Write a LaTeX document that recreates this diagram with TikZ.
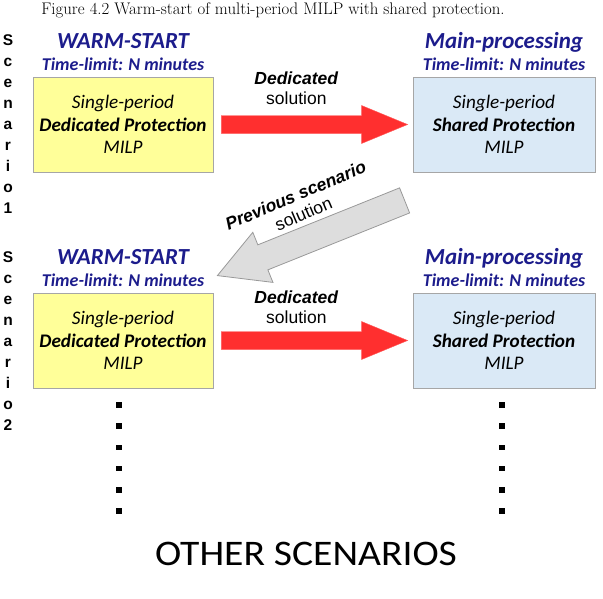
\documentclass[tikz,border=0pt]{standalone}
\usepackage{fontspec}
\newfontfamily\calibri{Carlito}
\newfontfamily\arialf{Liberation Sans}
\definecolor{msNavy}{HTML}{1C1C8C}
\definecolor{msYellow}{HTML}{FFFF99}
\definecolor{msBlue}{HTML}{DAE9F6}
\definecolor{msRed}{HTML}{FF2F2F}
\definecolor{msGrey}{HTML}{DDDDDD}
\usetikzlibrary{positioning, calc}

\begin{document}
\begin{tikzpicture}[x=1pt, y=-1pt,
  modelbox/.style={draw=black!35, line width=0.8pt, minimum width=180pt,
    minimum height=95pt, align=center, inner sep=0pt,
    font=\calibri\itshape\fontsize{19.2}{22.5}\selectfont},
  warmbox/.style={modelbox, fill=msYellow},
  mainbox/.style={modelbox, fill=msBlue, minimum width=182pt},
  stage/.style={text=msNavy, inner sep=0pt, text depth=0pt,
    font=\calibri\bfseries\itshape\fontsize{23}{26}\selectfont},
  limit/.style={text=msNavy, inner sep=0pt, text depth=0pt,
    font=\calibri\bfseries\itshape\fontsize{18}{20}\selectfont},
  passlbl/.style={align=center, inner sep=0pt,
    font=\arialf\fontsize{17.5}{20}\selectfont},
  scenlbl/.style={align=center, inner sep=0pt,
    font=\arialf\bfseries\fontsize{15.5}{21}\selectfont},
  redarrow/.style={fill=msRed, draw=msRed!80!white, line width=0.4pt},
  greyarrow/.style={fill=msGrey, draw=black!40, line width=0.8pt},
  more/.style={fill=black, minimum size=5.5pt, inner sep=0pt}]
  \useasboundingbox (0,0) rectangle (603,598);

  \node[inner sep=0pt, font=\fontsize{16.8}{19}\selectfont] (cap) at (273,10)
    {Figure 4.2 Warm-start of multi-period MILP with shared protection.};

  % scenario 1
  \node[scenlbl] (sc1) at (8,124) {S\\c\\e\\n\\a\\r\\i\\o\\1};
  \node[warmbox] (ws1) at (123,124.5) {Single-period\\\textbf{Dedicated Protection}\\MILP};
  \node[limit, above=6pt of ws1] (wsl1) {Time-limit: N minutes};
  \node[stage, above=9pt of wsl1] (wst1) {WARM-START};
  \node[mainbox] (mp1) at (504,124.5) {Single-period\\\textbf{Shared Protection}\\MILP};
  \node[limit, above=6pt of mp1] (mpl1) {Time-limit: N minutes};
  \node[stage, above=9pt of mpl1] (mpt1) {Main-processing};
  \filldraw[redarrow] ($(ws1.east)+(8,-9)$) -- ($(mp1.west)+(-51,-9)$)
    -- ($(mp1.west)+(-51,-19)$) -- ($(mp1.west)+(-5,0)$)
    -- ($(mp1.west)+(-51,19)$) -- ($(mp1.west)+(-51,9)$)
    -- ($(ws1.east)+(8,9)$) -- cycle;
  \node[passlbl] (ded1) at ($(ws1.east)+(83,-36)$) {\textbf{\textit{Dedicated}}\\solution};

  % scenario 2
  \node[scenlbl] (sc2) at (8,341) {S\\c\\e\\n\\a\\r\\i\\o\\2};
  \node[warmbox] (ws2) at (123,340.5) {Single-period\\\textbf{Dedicated Protection}\\MILP};
  \node[limit, above=6pt of ws2] (wsl2) {Time-limit: N minutes};
  \node[stage, above=9pt of wsl2] (wst2) {WARM-START};
  \node[mainbox] (mp2) at (504,340.5) {Single-period\\\textbf{Shared Protection}\\MILP};
  \node[limit, above=6pt of mp2] (mpl2) {Time-limit: N minutes};
  \node[stage, above=9pt of mpl2] (mpt2) {Main-processing};
  \filldraw[redarrow] ($(ws2.east)+(8,-9)$) -- ($(mp2.west)+(-51,-9)$)
    -- ($(mp2.west)+(-51,-19)$) -- ($(mp2.west)+(-5,0)$)
    -- ($(mp2.west)+(-51,19)$) -- ($(mp2.west)+(-51,9)$)
    -- ($(ws2.east)+(8,9)$) -- cycle;
  \node[passlbl] (ded2) at ($(ws2.east)+(83,-33)$) {\textbf{\textit{Dedicated}}\\solution};

  % previous scenario solution feeds the next warm start
  \coordinate (prevtail) at ($(mp1.south west)+(-8,28)$);
  \coordinate (prevtip) at ($(ws2.north east)+(4,-17)$);
  \coordinate (prevhead) at ($(prevtip)!49pt!(prevtail)$);
  \filldraw[greyarrow] ($(prevtail)!13.5pt!90:(prevtip)$)
    -- ($(prevhead)!13.5pt!90:(prevtip)$) -- ($(prevhead)!27pt!90:(prevtip)$)
    -- (prevtip)
    -- ($(prevhead)!27pt!-90:(prevtip)$) -- ($(prevhead)!13.5pt!-90:(prevtip)$)
    -- ($(prevtail)!13.5pt!-90:(prevtip)$) -- cycle;
  \node[passlbl, rotate=23] (prev) at (299.5,204.5)
    {\textbf{\textit{Previous scenario}}\\solution};

  % remaining scenarios
  \foreach \k in {0,...,5} {
    \node[more] (dl\k) at (119,{405+21.2*\k}) {};
    \node[more] (dr\k) at (502,{405+21.2*\k}) {};
  }
  \node[inner sep=0pt, font=\calibri\fontsize{36}{40}\selectfont] (others) at (306,554)
    {\scalebox{1.1}[1]{OTHER SCENARIOS}};
\end{tikzpicture}
\end{document}
